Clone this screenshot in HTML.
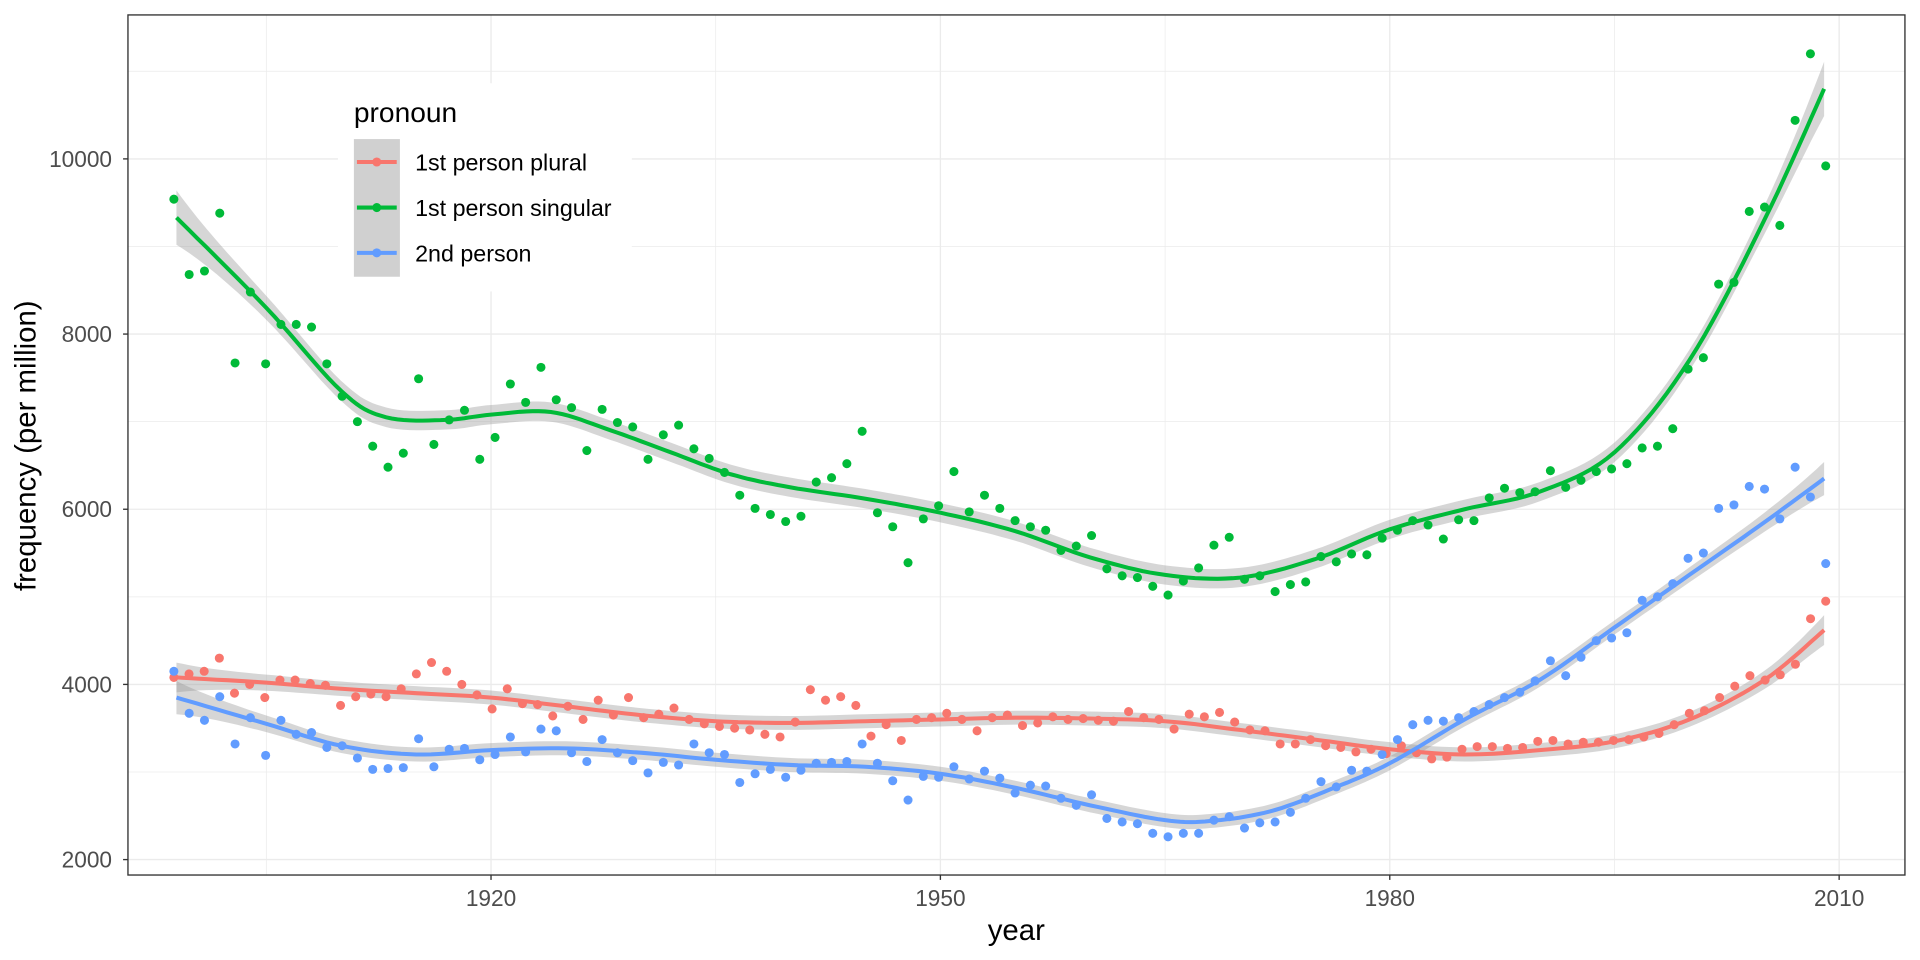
<!DOCTYPE html>
<html><head><meta charset="utf-8">
<style>html,body{margin:0;padding:0;background:#fff}svg{display:block}text{font-family:"Liberation Sans",Arial,sans-serif}</style>
</head><body>
<svg id="s" width="1920" height="960" viewBox="0 0 1568 784" xmlns="http://www.w3.org/2000/svg">
<rect x="0" y="0" width="1568" height="784" fill="#fff"/>
<g id="grid"></g>
<g id="rib"></g>
<g id="pts"></g>
<g id="lines"></g>
<rect x="104.5" y="12.2" width="1451.2" height="702.4" fill="none" stroke="#333" stroke-width="1.1"/>
<g id="axes" fill="#4d4d4d" font-size="18.5"></g>
<text x="830" y="767.5" font-size="24" text-anchor="middle" fill="#000">year</text>
<text transform="translate(29,364) rotate(-90)" font-size="24" text-anchor="middle" fill="#000">frequency (per million)</text>
<g id="leg"></g>
</svg>
<script>
const NS="http://www.w3.org/2000/svg";
function el(p,t,a,txt){const e=document.createElementNS(NS,t);for(const k in a)e.setAttribute(k,a[k]);if(txt!==undefined)e.textContent=txt;document.getElementById(p).appendChild(e);return e;}
const L=104.5,R=1555.7,T=12.2,B=714.6;
const X=y=>401+(y-1920)*12.233;
const Y=v=>702-(v-2000)*0.07153;
[1905,1935,1965,1995].forEach(y=>el('grid','line',{x1:X(y),x2:X(y),y1:T,y2:B,stroke:'#ebebeb','stroke-width':0.6}));
[3000,5000,7000,9000,11000].forEach(v=>el('grid','line',{x1:L,x2:R,y1:Y(v),y2:Y(v),stroke:'#ebebeb','stroke-width':0.6}));
[1920,1950,1980,2010].forEach(y=>{el('grid','line',{x1:X(y),x2:X(y),y1:T,y2:B,stroke:'#ebebeb','stroke-width':1.1});
 el('axes','line',{x1:X(y),x2:X(y),y1:B,y2:B+4,stroke:'#333','stroke-width':1.1});
 el('axes','text',{x:X(y),y:B+25.5,'text-anchor':'middle'},y);});
[2000,4000,6000,8000,10000].forEach(v=>{el('grid','line',{x1:L,x2:R,y1:Y(v),y2:Y(v),stroke:'#ebebeb','stroke-width':1.1});
 el('axes','line',{x1:L-4,x2:L,y1:Y(v),y2:Y(v),stroke:'#333','stroke-width':1.1});
 el('axes','text',{x:L-13,y:Y(v)+6.5,'text-anchor':'end'},v);});
const G=[9540,8680,8720,9380,7670,8480,7660,8110,8110,8080,7660,7290,7000,6720,6480,6640,7490,6740,7020,7130,6570,6820,7430,7220,7620,7250,7160,6670,7140,6990,6940,6570,6850,6960,6690,6580,6420,6160,6010,5940,5860,5920,6310,6360,6520,6890,5960,5800,5390,5890,6040,6430,5970,6160,6010,5870,5800,5760,5530,5580,5700,5320,5240,5220,5120,5020,5180,5330,5590,5680,5200,5240,5060,5140,5170,5460,5400,5490,5480,5670,5760,5870,5820,5660,5880,5870,6130,6240,6190,6200,6440,6250,6330,6430,6460,6520,6700,6720,6920,7600,7730,8570,8590,9400,9450,9240,10440,11200,9920];
const Rd=[4080,4120,4150,4300,3900,4000,3850,4050,4050,4010,3990,3760,3860,3890,3860,3950,4120,4250,4150,4000,3880,3720,3950,3780,3770,3640,3750,3600,3820,3650,3850,3620,3660,3730,3600,3550,3520,3500,3480,3430,3400,3570,3940,3820,3860,3760,3410,3540,3360,3600,3620,3670,3600,3470,3620,3650,3530,3560,3630,3600,3610,3590,3580,3690,3620,3600,3490,3660,3630,3680,3570,3480,3470,3320,3320,3370,3300,3280,3230,3260,3210,3300,3220,3150,3170,3260,3290,3290,3270,3280,3350,3360,3320,3340,3340,3360,3370,3400,3440,3540,3670,3700,3850,3980,4100,4050,4110,4230,4750,4950];
const Bl=[4150,3670,3590,3860,3320,3620,3190,3590,3430,3450,3280,3300,3160,3030,3040,3050,3380,3060,3260,3270,3140,3200,3400,3230,3490,3470,3220,3120,3370,3220,3130,2990,3110,3080,3320,3220,3200,2880,2980,3030,2940,3020,3100,3110,3120,3320,3100,2900,2680,2950,2940,3060,2920,3010,2930,2760,2850,2840,2700,2620,2740,2470,2430,2410,2300,2260,2300,2300,2450,2490,2360,2420,2430,2540,2700,2890,2830,3020,3010,3200,3370,3540,3590,3580,3620,3690,3770,3850,3910,4040,4270,4100,4310,4500,4530,4590,4960,5000,5150,5440,5500,6010,6050,6260,6230,5890,6480,6140,5380];
const GC=[[1899,9330],[1905,8300],[1910,7350],[1913,7050],[1917,7020],[1920,7080],[1924,7110],[1928,6900],[1932,6650],[1936,6400],[1940,6250],[1945,6120],[1950,5960],[1955,5750],[1960,5450],[1965,5250],[1970,5220],[1975,5430],[1980,5770],[1985,6000],[1990,6200],[1995,6650],[2000,7700],[2005,9300],[2009,10800]];
const RC=[[1899,4080],[1905,4020],[1910,3950],[1915,3900],[1920,3850],[1925,3750],[1930,3650],[1935,3580],[1940,3560],[1945,3580],[1950,3600],[1955,3620],[1960,3610],[1965,3580],[1970,3480],[1975,3370],[1980,3260],[1985,3200],[1990,3250],[1995,3350],[2000,3600],[2005,4050],[2009,4620]];
const BC=[[1899,3850],[1905,3550],[1910,3300],[1915,3200],[1920,3250],[1925,3270],[1930,3220],[1935,3140],[1940,3080],[1945,3060],[1950,2980],[1955,2820],[1960,2620],[1965,2450],[1968,2440],[1972,2550],[1976,2800],[1980,3100],[1985,3600],[1990,4050],[1995,4650],[2000,5250],[2005,5850],[2009,6350]];
function cr(P){const o=[];for(let i=0;i<P.length-1;i++){const p0=P[Math.max(0,i-1)],p1=P[i],p2=P[i+1],p3=P[Math.min(P.length-1,i+2)];
 for(let t=0;t<1;t+=0.1){const t2=t*t,t3=t2*t;const f=(a,b,c,d)=>0.5*(2*b+(-a+c)*t+(2*a-5*b+4*c-d)*t2+(-a+3*b-3*c+d)*t3);o.push([f(p0[0],p1[0],p2[0],p3[0]),f(p0[1],p1[1],p2[1],p3[1])]);}}
 o.push(P[P.length-1]);return o;}
function series(data,curve,col,base,boost){
 const n=data.length;data.forEach((v,i)=>{const x=142+(1491-142)*i/(n-1);el('pts','circle',{cx:x,cy:Y(v),r:3.7,fill:col});});
 const c=cr(curve);
 const w=p=>{const yr=p[0];let d=Math.min(yr-1899,2009-yr);return base+boost*Math.exp(-d/3);};
 const up=c.map(p=>X(p[0]).toFixed(1)+','+Y(p[1]+w(p)).toFixed(1));
 const dn=c.slice().reverse().map(p=>X(p[0]).toFixed(1)+','+Y(p[1]-w(p)).toFixed(1));
 el('rib','polygon',{points:up.concat(dn).join(' '),fill:'#999','fill-opacity':0.4});
 el('lines','polyline',{points:c.map(p=>X(p[0]).toFixed(1)+','+Y(p[1]).toFixed(1)).join(' '),fill:'none',stroke:col,'stroke-width':3.3});
}
series(Rd,RC,'#F8766D',80,90);series(G,GC,'#00BA38',110,200);series(Bl,BC,'#619CFF',80,110);
el('leg','rect',{x:276,y:68,width:240,height:170,fill:'#fff'});
el('leg','text',{x:289,y:99.5,'font-size':23,fill:'#000'},'pronoun');
el('leg','rect',{x:289,y:113.6,width:37.6,height:112.4,fill:'#d0d0d0'});
[['#F8766D','1st person plural',132.3],['#00BA38','1st person singular',169.5],['#619CFF','2nd person',206.5]].forEach(([c,t,y])=>{
 el('leg','line',{x1:291.5,x2:324,y1:y,y2:y,stroke:c,'stroke-width':3.3});
 el('leg','circle',{cx:307.7,cy:y,r:3.7,fill:c});
 el('leg','text',{x:339,y:y+7,'font-size':19,fill:'#000'},t);});
</script>
</body></html>
